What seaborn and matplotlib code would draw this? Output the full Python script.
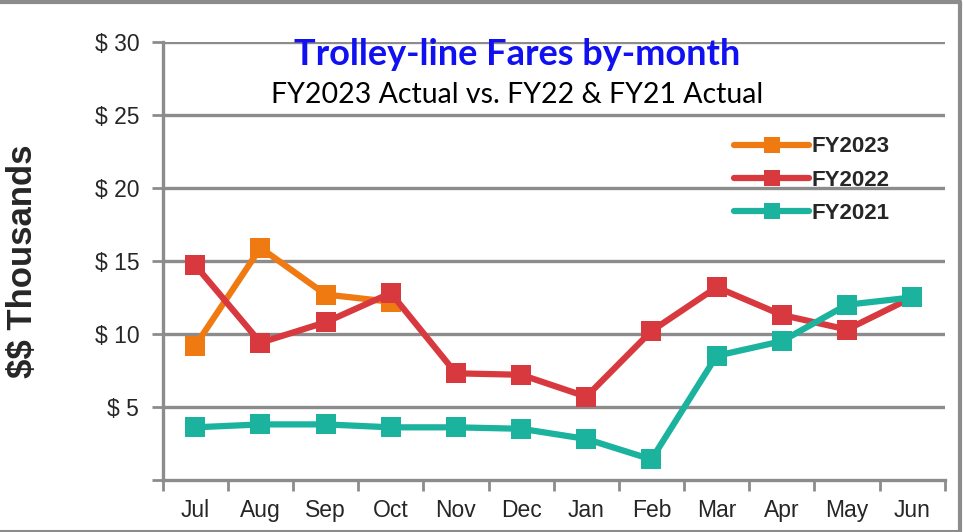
import numpy as np
import pandas as pd
import matplotlib.pyplot as plt
import seaborn as sns
from matplotlib.lines import Line2D
from matplotlib.ticker import FixedLocator, NullFormatter

# Datos (miles de $)
months = ["Jul", "Aug", "Sep", "Oct", "Nov", "Dec", "Jan", "Feb", "Mar", "Apr", "May", "Jun"]
fy2023 = [9.2, 15.9, 12.7, 12.2, np.nan, np.nan, np.nan, np.nan, np.nan, np.nan, np.nan, np.nan]
fy2022 = [14.7, 9.4, 10.8, 12.8, 7.3, 7.2, 5.7, 10.2, 13.2, 11.3, 10.3, 12.5]
fy2021 = [3.6, 3.8, 3.8, 3.6, 3.6, 3.5, 2.8, 1.4, 8.5, 9.5, 12.0, 12.5]
series = ["FY2023", "FY2022", "FY2021"]
colors = ["#F07A12", "#D8393F", "#1BB39E"]
yticks = [0, 5, 10, 15, 20, 25, 30]
ytick_labels = ["", "\\$ 5", "\\$ 10", "\\$ 15", "\\$ 20", "\\$ 25", "\\$ 30"]

df = pd.DataFrame({"Mes": months, "FY2023": fy2023, "FY2022": fy2022, "FY2021": fy2021})
df["pos"] = range(len(months))

sns.set_style("white")
arial = ["Liberation Sans", "DejaVu Sans"]

fig = plt.figure(figsize=(9.63, 5.32), dpi=100)
ax = fig.add_axes([0.169, 0.098, 0.812, 0.823])

# grid primero, para que quede detras
for y in yticks[1:]:
    ax.axhline(y, color="#8C8C8C", lw=2.4, zorder=0)

for name, col in zip(series, colors):
    sns.lineplot(data=df, x="pos", y=name, ax=ax, color=col, lw=4.5,
                 marker="s", markersize=15, markeredgewidth=0, label=name,
                 zorder=3)

ax.set_xlim(-0.5, 11.5)
ax.set_ylim(0, 30)
ax.set_yticks(yticks)
ax.set_yticklabels(ytick_labels, fontsize=16.5, family=arial)
ax.tick_params(axis="y", length=8, width=2, color="#8C8C8C", pad=9, left=True)

# meses en el centro, marcas en los limites
ax.xaxis.set_major_locator(FixedLocator(range(len(months))))
ax.set_xticklabels(months, fontsize=16.5, family=arial)
ax.xaxis.set_minor_locator(FixedLocator(np.arange(-0.5, 12, 1)))
ax.xaxis.set_minor_formatter(NullFormatter())
ax.tick_params(axis="x", which="major", length=0, pad=14)
ax.tick_params(axis="x", which="minor", length=8, width=2, color="#8C8C8C", bottom=True)

for s in ["top", "right"]:
    ax.spines[s].set_visible(False)
for s in ["left", "bottom"]:
    ax.spines[s].set_color("#8C8C8C")
    ax.spines[s].set_linewidth(2.4)

ax.set_xlabel("")
ax.set_ylabel("\\$\\$ Thousands", fontsize=25, fontweight="bold", family=arial)
ax.yaxis.set_label_coords(-0.158, 0.5)

leg = ax.legend(loc="upper right", bbox_to_anchor=(0.955, 0.83), frameon=False,
                handlelength=3.4, handletextpad=0.1, labelspacing=0.55,
                markerscale=0.75, prop={"family": arial, "weight": "bold", "size": 16})

fig.text(0.537, 0.897, "Trolley-line Fares by-month", ha="center", va="center",
         color="#1010F0", fontsize=26, family=["Lato", "DejaVu Sans"], fontweight="bold")
fig.text(0.537, 0.821, "FY2023 Actual vs. FY22 & FY21 Actual", ha="center", va="center",
         color="black", fontsize=20.5, family=["Lato", "DejaVu Sans"])

# marco gris: arriba, derecha y abajo (sin borde izquierdo)
frame_kw = dict(transform=fig.transFigure, color="#8C8C8C")
fig.lines.append(Line2D([0, 0.997], [0.997, 0.997], lw=3, **frame_kw))
fig.lines.append(Line2D([0.997, 0.997], [0.0, 0.997], lw=3, **frame_kw))
fig.lines.append(Line2D([0, 0.997], [0.002, 0.002], lw=1.5, **frame_kw))

fig.savefig("out.png", dpi=100)
plt.close()
